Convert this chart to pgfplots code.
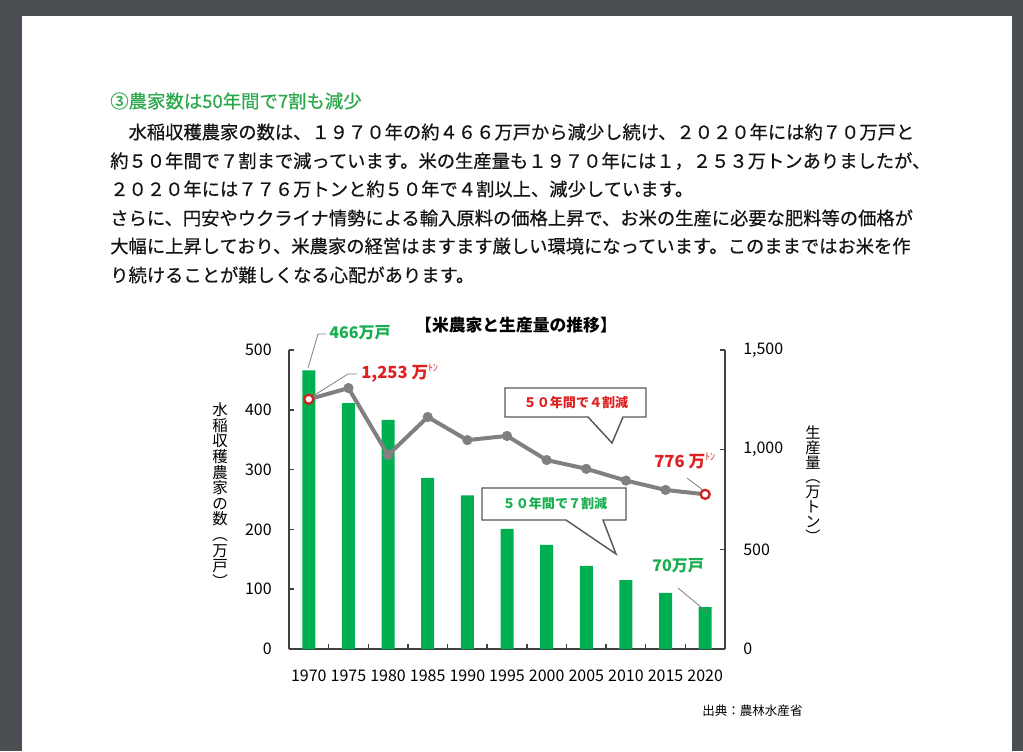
\documentclass[border=0pt]{standalone}
\usepackage{fontspec}
\usepackage{pgfplots}
\pgfplotsset{compat=1.18}
\setmainfont{Noto Sans CJK JP}
\newfontfamily\bodyfam[FakeBold=0.5]{Noto Sans CJK JP}
\XeTeXlinebreaklocale "ja"
\XeTeXlinebreakskip=0pt plus 1pt minus 1pt
\definecolor{bgdark}{HTML}{4B4E52}
\definecolor{headgreen}{HTML}{2BA84A}
\definecolor{bargreen}{HTML}{00B050}
\definecolor{annogreen}{HTML}{16AE4E}
\definecolor{annored}{HTML}{E02020}
\definecolor{ringred}{HTML}{D02020}
\definecolor{linegray}{HTML}{808080}
\definecolor{axisgray}{HTML}{404040}
\definecolor{bodytext}{HTML}{141414}
\definecolor{boxedge}{HTML}{595959}

\pgfplotstableread{
x year farms
0 1970 466
1 1975 411
2 1980 383
3 1985 286
4 1990 257
5 1995 201
6 2000 174
7 2005 139
8 2010 115
9 2015 94
10 2020 70
}\farmtable
\pgfplotstableread{
x year prod
0 1970 1253
1 1975 1309
2 1980 973
3 1985 1164
4 1990 1048
5 1995 1069
6 2000 948
7 2005 904
8 2010 845
9 2015 798
10 2020 776
}\prodtable

\pgfplotsset{
  common/.style={
    at={(216.75pt,-486.75pt)}, anchor=south west,
    scale only axis, width=327pt, height=224.25pt,
    xmin=-0.5, xmax=10.5, clip=false,
    axis line style={draw=axisgray, line width=1.1pt, -},
    tick align=inside,
    major tick length=3.75pt, minor tick length=3.75pt,
    tick style={draw=axisgray, line width=1.1pt},
    tick label style={font=\fontsize{12}{14}\selectfont, text=black},
    /pgf/number format/assume math mode=true,
  }
}

\begin{document}
\begin{tikzpicture}
\begin{scope}[x=0.75pt,y=-0.75pt]
\path[use as bounding box] (0,0) rectangle (1023,751);
\fill[bgdark] (0,0) rectangle (1023,751);
\fill[white] (22,16) rectangle (1012,751);
\node[anchor=west, inner sep=0, text=headgreen, font=\bodyfam\fontsize{13.8}{16}\selectfont] at (110,101) {③農家数は50年間で7割も減少};
\begin{scope}[every node/.style={anchor=west, inner sep=0, text=bodytext, font=\bodyfam\fontsize{13.72}{16}\selectfont}]
\node at (110,132) {\makebox[603.75pt][s]{　水稲収穫農家の数は、１９７０年の約４６６万戸から減少し続け、２０２０年には約７０万戸と}};
\node at (110,161) {\makebox[603.75pt][s]{約５０年間で７割まで減っています。米の生産量も１９７０年には１，２５３万トンありましたが、}};
\node at (110,189) {２０２０年には７７６万トンと約５０年で４割以上、減少しています。};
\node at (110,218) {\makebox[603.75pt][s]{さらに、円安やウクライナ情勢による輸入原料の価格上昇で、お米の生産に必要な肥料等の価格が}};
\node at (110,246) {\makebox[603.75pt][s]{大幅に上昇しており、米農家の経営はますます厳しい環境になっています。このままではお米を作}};
\node at (110,275) {り続けることが難しくなる心配があります。};
\end{scope}
\end{scope}

\begin{axis}[common,
  ymin=0, ymax=500,
  axis x line*=bottom, axis y line*=left,
  xtick={0,...,10},
  xticklabels={1970,1975,1980,1985,1990,1995,2000,2005,2010,2015,2020},
  minor xtick={-0.5,0.5,...,10.5},
  major x tick style={draw=none},
  ytick={0,100,...,500},
  xticklabel style={anchor=center, yshift=-20.25pt, inner sep=0pt},
  yticklabel style={anchor=east, xshift=-12.75pt, inner sep=0pt},
]
\addplot[ybar, bar width=9.75pt, bar shift=0pt, fill=bargreen, draw=none] table[x=x, y=farms] {\farmtable};
\end{axis}

\begin{axis}[common,
  ymin=0, ymax=1500,
  axis y line*=right, axis x line=none,
  ytick={0,500,1000,1500},
  yticklabel style={anchor=west, xshift=13.5pt, inner sep=0pt},
]
\addplot[linegray, line width=3pt, mark=*, mark size=3.6pt, mark options={solid, fill=linegray, draw=linegray, line width=0.4pt}] table[x=x, y=prod] {\prodtable};
\addplot[only marks, mark=*, mark size=3.4pt, mark options={solid, fill=white, draw=ringred, line width=1.7pt}] coordinates {(0,1253) (10,776)};
\end{axis}

\begin{scope}[x=0.75pt,y=-0.75pt]
\node[inner sep=0, font=\bfseries\fontsize{12.6}{14}\selectfont] at (516,325) {【米農家と生産量の推移】};
\node[inner sep=0, align=center, font=\fontsize{11.6}{11.7}\selectfont] at (220,495) {水\\稲\\収\\穫\\農\\家\\の\\数\\︵\\万\\戸\\︶};
\node[inner sep=0, align=center, font=\fontsize{11.4}{11.1}\selectfont] at (813,484) {生\\産\\量\\︵\\万\\ト\\ン\\︶};
\begin{scope}[every path/.style={draw=linegray, line width=0.6pt}]
\draw (308,368) -- (318,334) -- (326,334);
\draw (313,396) -- (348,374) -- (357,374);
\draw (703,490) -- (687,478);
\draw (707,612) -- (678,588);
\end{scope}
\node[anchor=west, inner sep=0, text=annogreen, font=\bfseries\fontsize{12}{14}\selectfont] at (329,333) {466万戸};
\node[anchor=west, inner sep=0, text=annored, font=\bfseries\fontsize{12.5}{14}\selectfont] at (361,373) {1,253 万\raisebox{0.4em}{\mdseries\fontsize{7.5}{8}\selectfont ﾄﾝ}};
\node[anchor=west, inner sep=0, text=annored, font=\bfseries\fontsize{12.5}{14}\selectfont] at (654,461) {776 万\raisebox{0.4em}{\mdseries\fontsize{7.5}{8}\selectfont ﾄﾝ}};
\node[anchor=west, inner sep=0, text=annogreen, font=\bfseries\fontsize{12}{14}\selectfont] at (652,566) {70万戸};
\draw[fill=white, draw=boxedge, line width=1.1pt] (505,388) -- (646,388) -- (646,417) -- (623,417) -- (612,443) -- (588,417) -- (505,417) -- cycle;
\node[inner sep=0, text=annored, font=\bfseries\fontsize{9.8}{12}\selectfont] at (576,403) {５０年間で４割減};
\draw[fill=white, draw=boxedge, line width=1.1pt] (482,488) -- (626,488) -- (626,520) -- (603,520) -- (616,554) -- (566,520) -- (482,520) -- cycle;
\node[inner sep=0, text=annogreen, font=\bfseries\fontsize{9.8}{12}\selectfont] at (555,504) {５０年間で７割減};
\node[anchor=west, inner sep=0, text=black, font=\fontsize{9.4}{11}\selectfont] at (702,711) {出典：農林水産省};
\end{scope}
\end{tikzpicture}
\end{document}
